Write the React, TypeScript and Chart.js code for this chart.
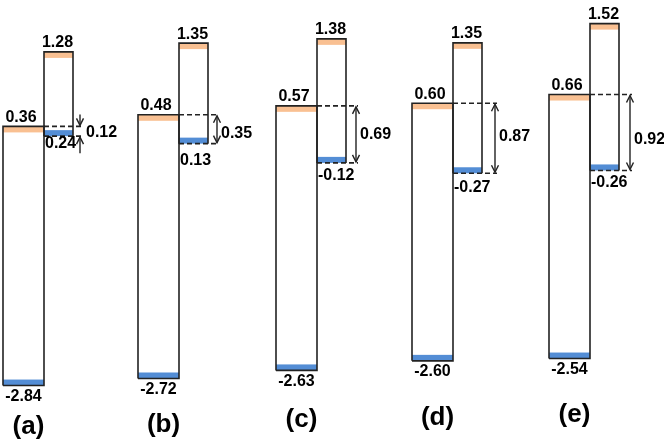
import React, { useEffect, useRef } from 'react';
import { Chart, registerables } from 'chart.js';

Chart.register(...registerables);

// ---- data ----
const panelLabels = ['(a)', '(b)', '(c)', '(d)', '(e)'];
const leftCB = [0.36, 0.48, 0.57, 0.6, 0.66];
const leftVB = [-2.84, -2.72, -2.63, -2.6, -2.54];
const rightCB = [1.28, 1.35, 1.38, 1.35, 1.52];
const rightVB = [0.24, 0.13, -0.12, -0.27, -0.26];
const offsets = [0.12, 0.35, 0.69, 0.87, 0.92];

// ---- layout ----
const W = 664;
const H = 445;
const panelLeft = [3, 138, 276, 412, 549];
const LEFT_W = 41;
const RIGHT_W = 29;
const dashExtra = [9, 11, 12, 15, 13];
const axisMin = [-3.574, -3.527, -3.532, -3.645, -3.588];
const axisMax = [1.921, 1.873, 1.85, 1.882, 1.806];
const panelLabelY = [427, 425, 420, 418, 415];
const rightVBLabelDy = [7, 17, 13, 14, 12];
const offsetLabelDy = [1, 4, 0, -2, 7];

const ORANGE = '#F9C092';
const BLUE = '#538DD5';
const LINE = '#222222';
const FONT = '"Liberation Sans", Arial, sans-serif';
const BAND = 6;

const geom = (i: number) => {
  const xL = panelLeft[i];
  const xM = xL + LEFT_W;
  const xR = xM + RIGHT_W;
  const xE = xR + dashExtra[i];
  return { xL, xM, xR, xE };
};

const fmt = (v: number) => v.toFixed(2);

function arrowHead(ctx: CanvasRenderingContext2D, x: number, y: number, dir: number) {
  // dir = 1 points down, -1 points up
  ctx.beginPath();
  ctx.moveTo(x - 3.5, y - dir * 7);
  ctx.lineTo(x, y);
  ctx.lineTo(x + 3.5, y - dir * 7);
  ctx.stroke();
}

const bandsPlugin = {
  id: 'bands',
  beforeDatasetsDraw(chart: any) {
    const ctx = chart.ctx as CanvasRenderingContext2D;
    const xs = chart.scales.x;
    ctx.save();
    for (let i = 0; i < panelLabels.length; i++) {
      const ys = chart.scales['y' + i];
      const { xL, xM, xR } = geom(i);
      const pL = xs.getPixelForValue(xL);
      const pM = xs.getPixelForValue(xM);
      const pR = xs.getPixelForValue(xR);
      ctx.fillStyle = ORANGE;
      ctx.fillRect(pL, ys.getPixelForValue(leftCB[i]), pM - pL, BAND);
      ctx.fillRect(pM, ys.getPixelForValue(rightCB[i]), pR - pM, BAND);
      ctx.fillStyle = BLUE;
      ctx.fillRect(pL, ys.getPixelForValue(leftVB[i]) - BAND, pM - pL, BAND);
      ctx.fillRect(pM, ys.getPixelForValue(rightVB[i]) - BAND, pR - pM, BAND);
    }
    ctx.restore();
  },
};

const annotPlugin = {
  id: 'annot',
  afterDatasetsDraw(chart: any) {
    const ctx = chart.ctx as CanvasRenderingContext2D;
    const xs = chart.scales.x;
    ctx.save();
    ctx.strokeStyle = LINE;
    ctx.fillStyle = '#000';
    ctx.lineWidth = 1.4;
    ctx.textBaseline = 'middle';
    for (let i = 0; i < panelLabels.length; i++) {
      const ys = chart.scales['y' + i];
      const { xL, xM, xR, xE } = geom(i);
      const pL = xs.getPixelForValue(xL);
      const pM = xs.getPixelForValue(xM);
      const pR = xs.getPixelForValue(xR);
      const pE = xs.getPixelForValue(xE);
      const yLCB = ys.getPixelForValue(leftCB[i]);
      const yLVB = ys.getPixelForValue(leftVB[i]);
      const yRCB = ys.getPixelForValue(rightCB[i]);
      const yRVB = ys.getPixelForValue(rightVB[i]);
      const ax = pE - 2;

      // arrows
      if (i === 0) {
        ctx.beginPath();
        ctx.moveTo(ax, yLCB - 12);
        ctx.lineTo(ax, yLCB - 1);
        ctx.stroke();
        arrowHead(ctx, ax, yLCB - 1, 1);
        ctx.beginPath();
        ctx.moveTo(ax, yRVB + 17);
        ctx.lineTo(ax, yRVB + 1);
        ctx.stroke();
        arrowHead(ctx, ax, yRVB + 1, -1);
      } else {
        ctx.beginPath();
        ctx.moveTo(ax, yLCB + 1);
        ctx.lineTo(ax, yRVB - 1);
        ctx.stroke();
        arrowHead(ctx, ax, yLCB + 1, -1);
        arrowHead(ctx, ax, yRVB - 1, 1);
      }

      // value labels
      ctx.font = `bold 16px ${FONT}`;
      ctx.textAlign = 'center';
      ctx.fillText(fmt(rightCB[i]), (pM + pR) / 2 - 1, yRCB - 9);
      ctx.fillText(fmt(leftCB[i]), (pL + pM) / 2 - 2.5, yLCB - 9);
      ctx.fillText(fmt(leftVB[i]), (pL + pM) / 2, yLVB + 11);
      ctx.textAlign = 'left';
      ctx.fillText(fmt(rightVB[i]), pM + 1, yRVB + rightVBLabelDy[i]);
      const midY = (yLCB + yRVB) / 2 + offsetLabelDy[i];
      ctx.fillText(fmt(offsets[i]), ax + (i === 0 ? 6 : 4), midY);

      // panel label
      ctx.font = `bold 26px ${FONT}`;
      ctx.textAlign = 'center';
      ctx.fillText(panelLabels[i], (pL + pM) / 2 + 5, panelLabelY[i]);
    }
    ctx.restore();
  },
};

export default function App() {
  const ref = useRef<HTMLCanvasElement | null>(null);

  useEffect(() => {
    if (!ref.current) return;
    const datasets: any[] = [];
    const scales: any = {
      x: { type: 'linear', display: false, min: 0, max: W, bounds: 'data' },
    };
    for (let i = 0; i < panelLabels.length; i++) {
      const { xL, xM, xR, xE } = geom(i);
      const yId = 'y' + i;
      scales[yId] = {
        type: 'linear',
        display: false,
        min: axisMin[i],
        max: axisMax[i],
        bounds: 'data',
      };
      const base = {
        showLine: true,
        pointRadius: 0,
        pointHoverRadius: 0,
        borderColor: LINE,
        borderWidth: 1.6,
        fill: false,
        tension: 0,
        xAxisID: 'x',
        yAxisID: yId,
      };
      datasets.push({
        ...base,
        label: panelLabels[i] + ' left',
        data: [
          { x: xL, y: leftVB[i] },
          { x: xL, y: leftCB[i] },
          { x: xM, y: leftCB[i] },
          { x: xM, y: leftVB[i] },
          { x: xL, y: leftVB[i] },
        ],
      });
      datasets.push({
        ...base,
        label: panelLabels[i] + ' right',
        data: [
          { x: xM, y: rightVB[i] },
          { x: xM, y: rightCB[i] },
          { x: xR, y: rightCB[i] },
          { x: xR, y: rightVB[i] },
        ],
      });
      datasets.push({
        ...base,
        label: panelLabels[i] + ' CB dash',
        borderDash: [5, 3],
        data: [
          { x: xM, y: leftCB[i] },
          { x: xE, y: leftCB[i] },
        ],
      });
      datasets.push({
        ...base,
        label: panelLabels[i] + ' VB dash',
        borderDash: [5, 3],
        data: [
          { x: xM, y: rightVB[i] },
          { x: xE, y: rightVB[i] },
        ],
      });
    }

    const chart = new Chart(ref.current, {
      type: 'scatter',
      data: { datasets },
      options: {
        animation: false,
        responsive: false,
        devicePixelRatio: 1,
        layout: { padding: 0 },
        plugins: {
          legend: { display: false },
          tooltip: { enabled: false },
          title: { display: false },
        },
        events: [],
        scales,
      } as any,
      plugins: [bandsPlugin, annotPlugin],
    });
    return () => chart.destroy();
  }, []);

  return (
    <div style={{ position: 'absolute', left: 0, top: 0, width: W, height: H, background: '#fff' }}>
      <canvas ref={ref} width={W} height={H} style={{ display: 'block', width: W, height: H }} />
    </div>
  );
}
